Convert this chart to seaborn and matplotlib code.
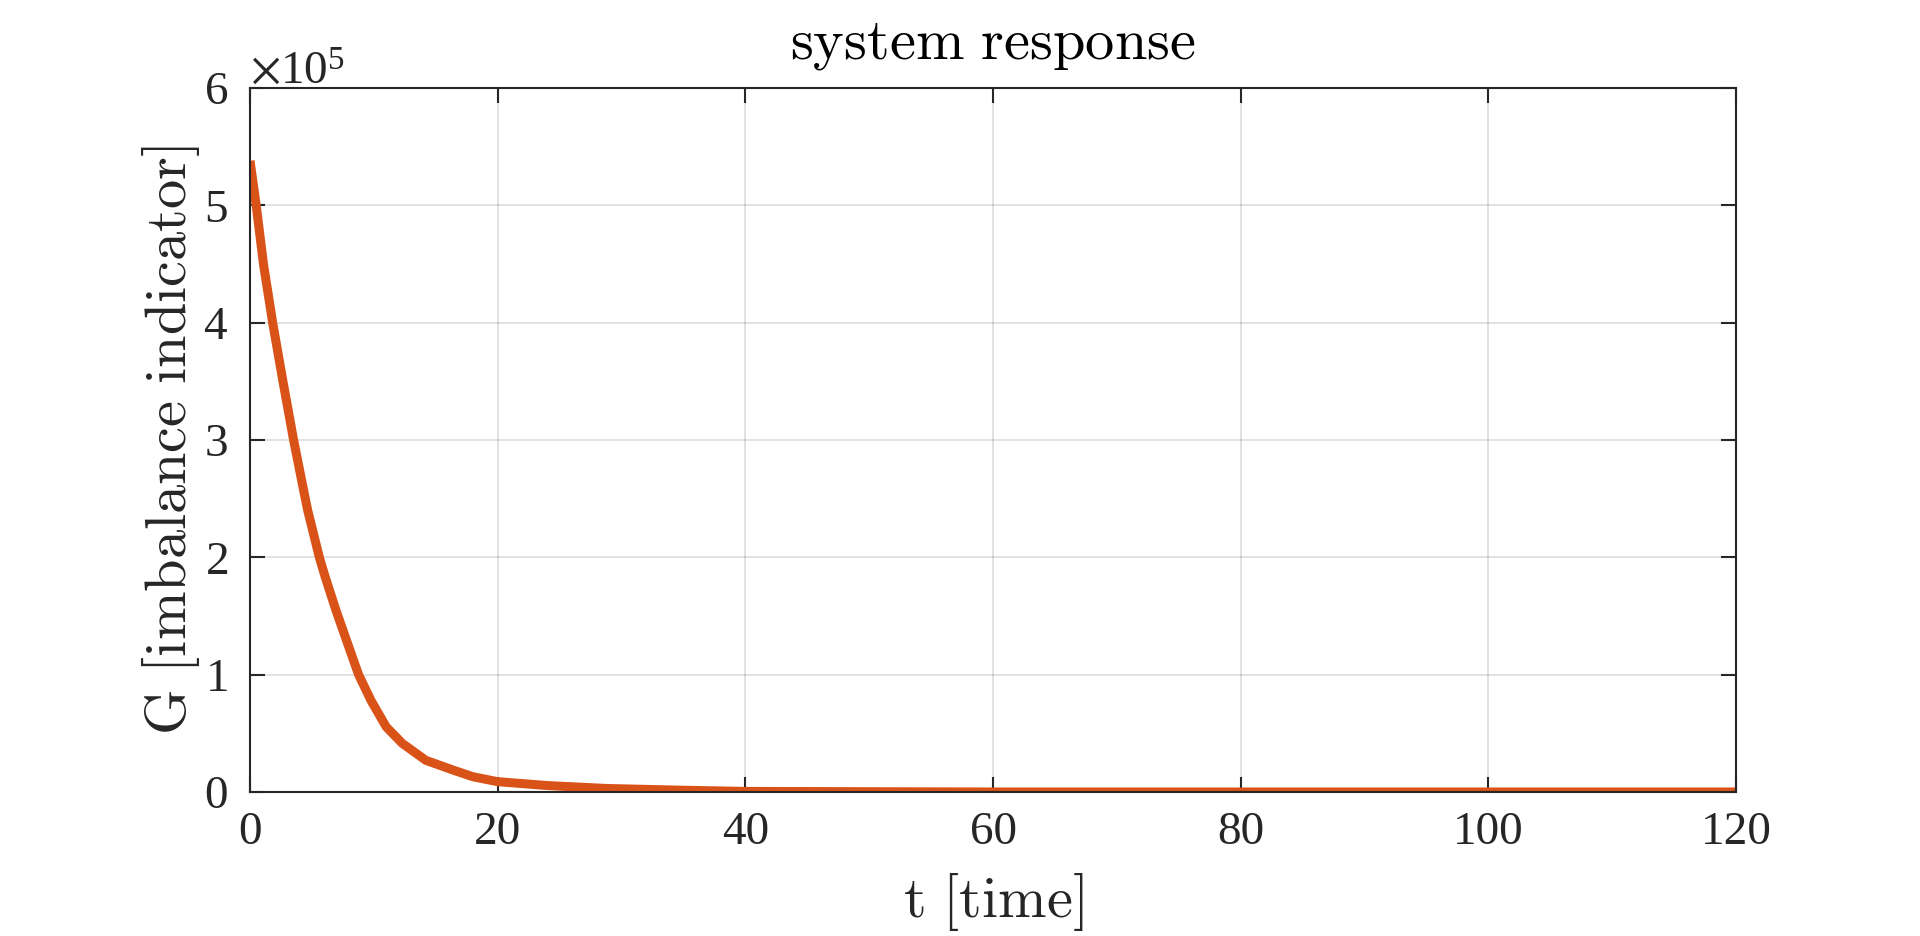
import numpy as np
import pandas as pd
import matplotlib
matplotlib.use("Agg")
import matplotlib.pyplot as plt
import seaborn as sns
from matplotlib.ticker import ScalarFormatter

# values
t_vals = [0, 0.5, 1.1, 1.83, 2.66, 3.52, 4.39, 4.66, 5.6, 6.08, 6.95, 7.9,
          8.77, 9.77, 11.0, 12.3, 14.2, 16.4, 18, 20, 24, 28.8, 35, 40,
          60, 80, 100, 120]
g_vals = [538000, 500000, 449000, 400000, 350000, 300000, 254000, 240000,
          200000, 183000, 154600, 126000, 100000, 78000, 55500, 41400, 27000,
          18700, 13000, 8800, 5500, 3000, 1500, 500, 0, 0, 0, 0]
x_ticks = [0, 20, 40, 60, 80, 100, 120]
y_ticks = [0, 1e5, 2e5, 3e5, 4e5, 5e5, 6e5]

df = pd.DataFrame({"t": t_vals, "G": g_vals})

sns.set_theme(style="ticks")
plt.rcParams["font.family"] = ["Liberation Serif", "DejaVu Serif"]
plt.rcParams["mathtext.fontset"] = "stix"

fig = plt.figure(figsize=(19.2, 9.36), dpi=100)
ax = fig.add_axes([250 / 1920, 1 - 792 / 936, (1736 - 250) / 1920, (792 - 88) / 936])

sns.lineplot(data=df, x="t", y="G", ax=ax, color="#D95319", linewidth=6.5,
             solid_capstyle="butt")

ax.set_xlim(0, 120)
ax.set_ylim(0, 6e5)
ax.set_xticks(x_ticks)
ax.set_yticks(y_ticks)

fmt = ScalarFormatter(useMathText=True)
fmt.set_powerlimits((0, 0))
ax.yaxis.set_major_formatter(fmt)
ax.yaxis.get_offset_text().set_fontsize(34)
ax.yaxis.get_offset_text().set_color("#262626")

ax.grid(True, color="#262626", alpha=0.15, linewidth=1.3)
ax.tick_params(direction="in", length=11, width=1.5, colors="#262626",
               labelsize=34, top=True, right=True)
ax.tick_params(axis="x", pad=14)
ax.tick_params(axis="y", pad=16)
for s in ax.spines.values():
    s.set_color("#262626")
    s.set_linewidth(1.5)

ax.set_xlabel(r"$\mathrm{t\ [time]}$", fontsize=42, color="#262626",
              labelpad=12, math_fontfamily="cm")
ax.set_ylabel(r"$\mathrm{G\ [imbalance\ indicator]}$", fontsize=42,
              color="#262626", labelpad=1, math_fontfamily="cm")
ax.set_title(r"$\mathrm{system\ response}$", fontsize=42, color="black",
             pad=21, math_fontfamily="cm")

fig.savefig("out.png", dpi=100)
